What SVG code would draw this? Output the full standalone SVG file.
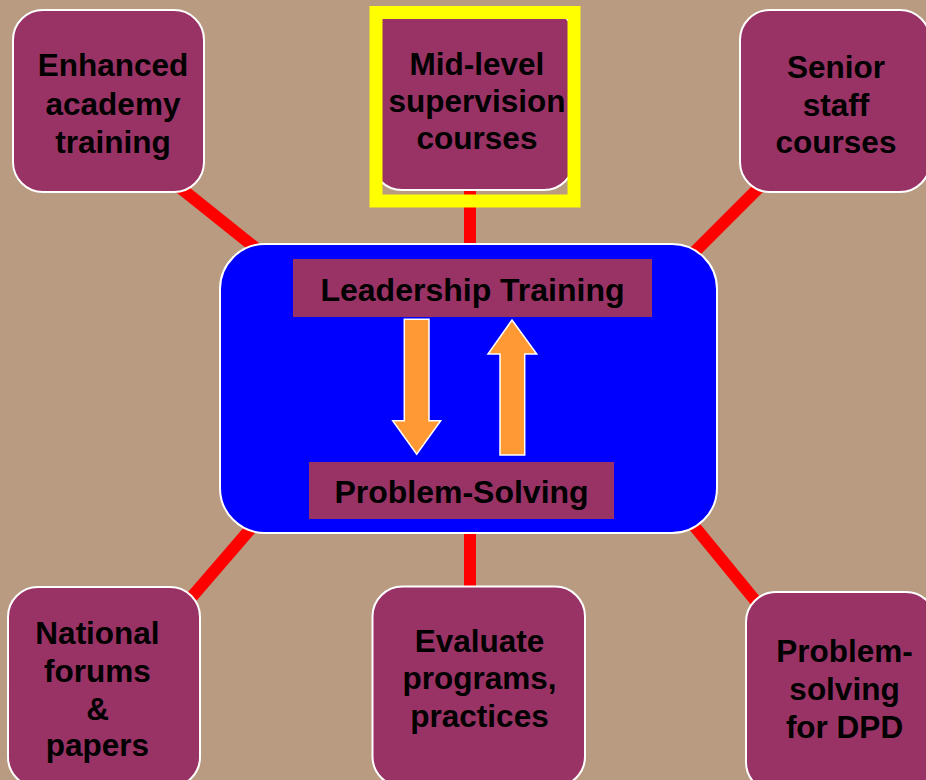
<svg xmlns="http://www.w3.org/2000/svg" width="926" height="780" viewBox="0 0 926 780">
<style>
.node{fill:#993366;stroke:#ffffff;stroke-width:2}
.lbl{fill:#993366}
.t{font-family:"Liberation Sans",Arial,sans-serif;font-weight:bold;font-size:31.5px;fill:#000;text-anchor:middle}
.tc{font-family:"Liberation Sans",Arial,sans-serif;font-weight:bold;font-size:32px;fill:#000;text-anchor:middle}
.con{stroke:#ff0000;stroke-width:12;fill:none}
.arr{fill:#ff9933;stroke:#ffffff;stroke-width:1.5}
</style>
<rect x="0" y="0" width="926" height="780" fill="#b89b81"/>
<g id="connectors">
<line class="con" x1="168" y1="178" x2="268" y2="258"/>
<line class="con" x1="470" y1="150" x2="470" y2="260"/>
<line class="con" x1="761.5" y1="185" x2="691.5" y2="255"/>
<line class="con" x1="190" y1="599" x2="253" y2="526"/>
<line class="con" x1="470" y1="520" x2="470" y2="600"/>
<line class="con" x1="694.5" y1="526.5" x2="758.5" y2="604.5"/>
</g>
<g id="enhanced">
<rect class="node" x="13" y="10" width="191" height="182" rx="30"/>
<text class="t" x="113" y="76">Enhanced</text>
<text class="t" x="113" y="114.5">academy</text>
<text class="t" x="113" y="153">training</text>
</g>
<g id="midlevel">
<rect class="node" x="372" y="8" width="202" height="182" rx="30"/>
<text class="t" x="477" y="75">Mid-level</text>
<text class="t" x="477" y="112">supervision</text>
<text class="t" x="477" y="149">courses</text>
<rect x="376" y="12.5" width="198" height="188.5" fill="none" stroke="#ffff00" stroke-width="13"/>
</g>
<g id="senior">
<rect class="node" x="740" y="10" width="190" height="182" rx="30"/>
<text class="t" x="836" y="78">Senior</text>
<text class="t" x="836" y="115.5">staff</text>
<text class="t" x="836" y="153">courses</text>
</g>
<g id="center">
<rect x="220" y="244" width="497" height="289" rx="45" fill="#0000ff" stroke="#ffffff" stroke-width="2"/>
<rect class="lbl" x="293" y="259" width="359" height="58"/>
<text class="tc" x="472.5" y="301">Leadership Training</text>
<rect class="lbl" x="309" y="462" width="305" height="57"/>
<text class="tc" x="461.5" y="503">Problem-Solving</text>
<polygon class="arr" points="404.3,319.3 429,319.3 429,420.7 440.7,420.7 416.7,454.3 392.7,420.7 404.3,420.7"/>
<polygon class="arr" points="512,320 536.7,354 524.7,354 524.7,455 500,455 500,354 488,354"/>
</g>
<g id="national">
<rect class="node" x="8" y="587" width="192" height="200" rx="30"/>
<text class="t" x="97.5" y="643.5">National</text>
<text class="t" x="97.5" y="681.5">forums</text>
<text class="t" x="97.5" y="719.5">&amp;</text>
<text class="t" x="97.5" y="756">papers</text>
</g>
<g id="evaluate">
<rect class="node" x="372.5" y="586.5" width="212.5" height="200" rx="30"/>
<text class="t" x="479.5" y="651.5">Evaluate</text>
<text class="t" x="479.5" y="689">programs,</text>
<text class="t" x="479.5" y="727">practices</text>
</g>
<g id="dpd">
<rect class="node" x="746" y="592" width="190" height="200" rx="30"/>
<text class="t" x="844.5" y="661.5">Problem-</text>
<text class="t" x="844.5" y="700">solving</text>
<text class="t" x="844.5" y="738">for DPD</text>
</g>
</svg>
